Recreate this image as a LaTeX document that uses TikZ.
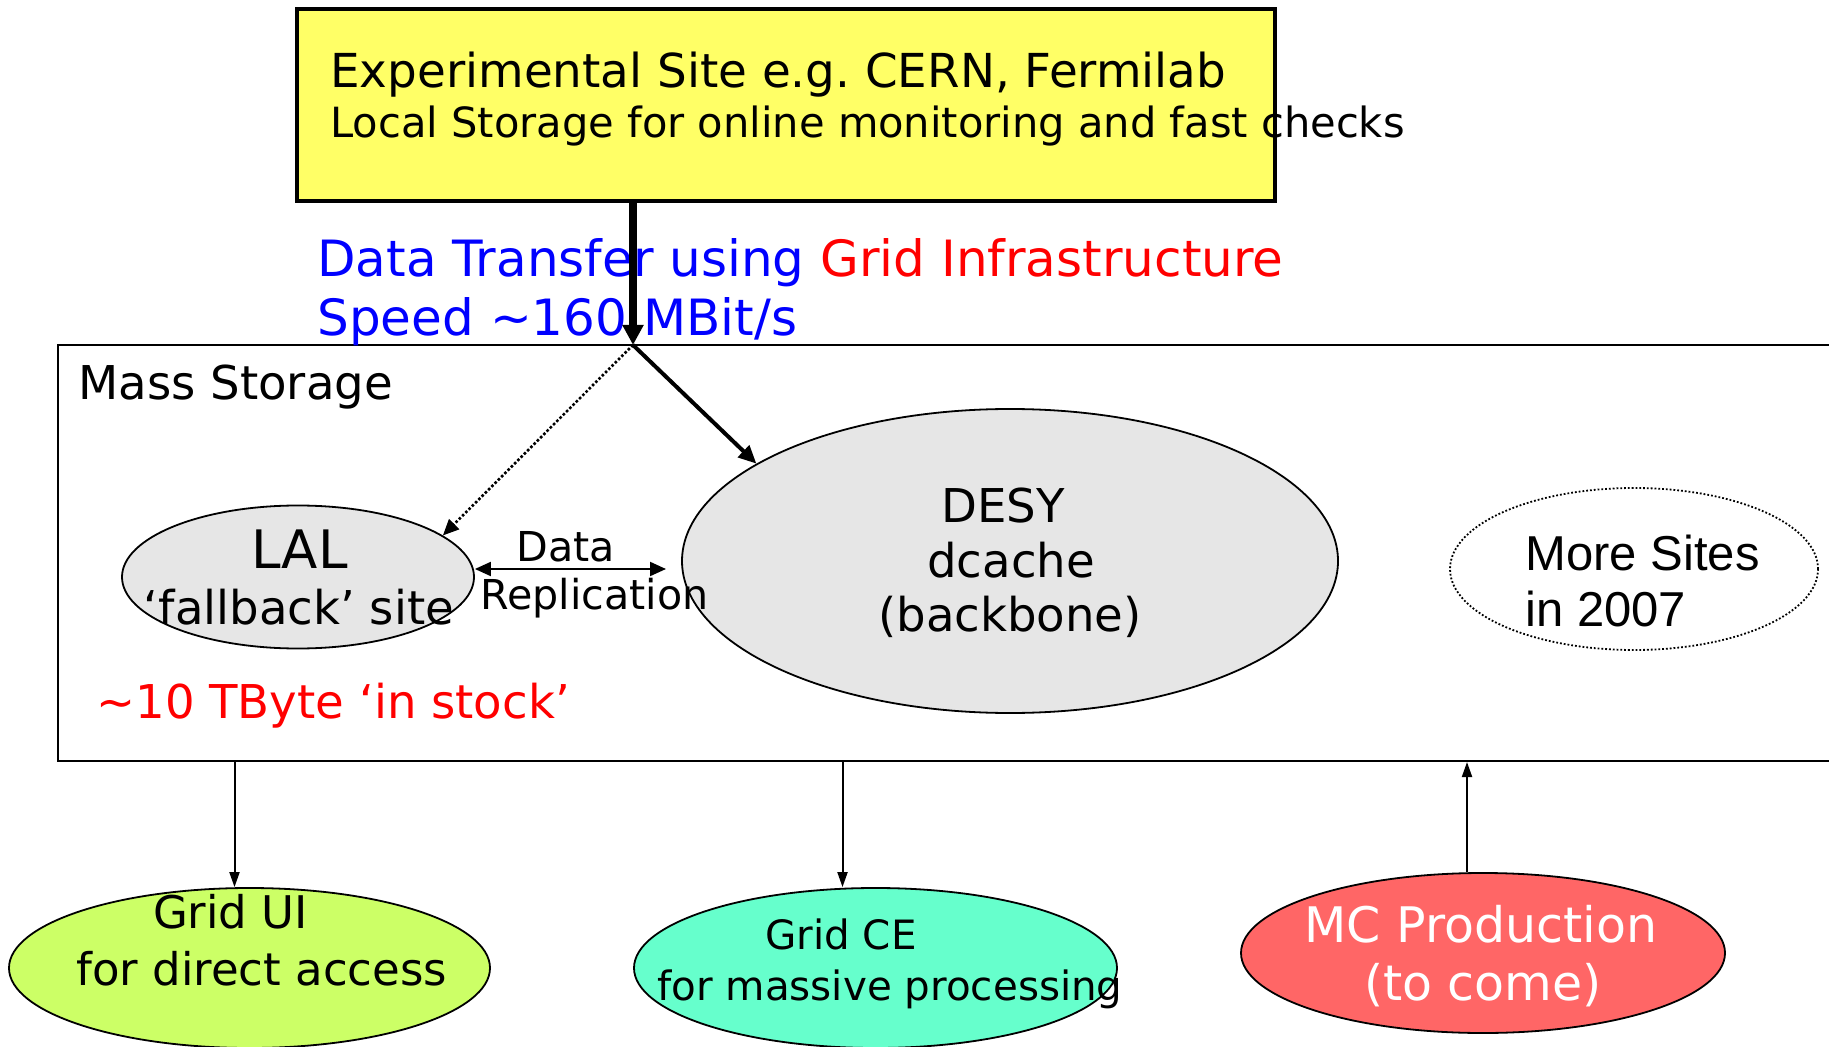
\documentclass[tikz,border=0pt]{standalone}
\usepackage{fontspec}
\setmainfont{DejaVu Sans}
\newfontfamily\arialfont{Liberation Sans}
\usetikzlibrary{shapes.geometric,arrows.meta}
\definecolor{siteyellow}{HTML}{FFFF66}
\definecolor{storegray}{HTML}{E6E6E6}
\definecolor{uigreen}{HTML}{CCFF66}
\definecolor{ceaqua}{HTML}{66FFCC}
\definecolor{mcred}{HTML}{FF6666}
\newcommand{\fsz}[1]{\fontsize{#1pt}{#1pt}\selectfont}

\begin{document}
\begin{tikzpicture}[x=0.5pt, y=-0.5pt,
    sitebox/.style ={rectangle, draw, line width=1.75pt, fill=siteyellow, inner sep=0pt},
    storage/.style ={rectangle, draw, line width=1pt, inner sep=0pt},
    place/.style ={ellipse, draw, line width=0.9pt, inner sep=0pt},
    words/.style ={inner sep=0pt, anchor=base west},
    cwords/.style ={inner sep=0pt, anchor=base},
    link/.style ={line width=1pt, -{Triangle[length=7.5pt,width=5pt]}}]
   \useasboundingbox (0,0) rectangle (1829,1047);
   % boxes and sites
   \node[sitebox] (site) at (786,105) [minimum width=489pt, minimum height=96pt] {};
   \node[storage] (mass) at (979,553) [minimum width=921pt, minimum height=208pt] {};
   \node[place, fill=storegray] (lal) at (298,577) [minimum width=176pt, minimum height=71.5pt] {};
   \node[place, fill=storegray] (desy) at (1010,561) [minimum width=328pt, minimum height=152pt] {};
   \node[place, densely dotted] (more) at (1634,569) [minimum width=184pt, minimum height=81pt] {};
   \node[place, fill=uigreen] (gridui) at (249.5,968) [minimum width=240.5pt, minimum height=80pt] {};
   \node[place, fill=ceaqua] (gridce) at (875.5,968) [minimum width=241.5pt, minimum height=80pt] {};
   \node[place, fill=mcred] (mc) at (1483,953) [minimum width=242pt, minimum height=80pt] {};
   \coordinate (hub) at (633,345);
   \coordinate (repl) at (666,569);
   % texts
   \node[words] (exp) at (330,88) {\fsz{23.4}Experimental Site e.g.\ CERN, Fermilab};
   \node[words] (local) at (330,138) {\fsz{20.8}Local Storage for online monitoring and fast checks};
   \node[words] (transfer) at (317,277) {\fsz{25}\textcolor{blue}{Data Transfer using} \textcolor{red}{Grid Infrastructure}};
   \node[words] (speed) at (317,336) {\fsz{25}\textcolor{blue}{Speed \textasciitilde160 MBit/s}};
   \node[words] (masstxt) at (78,400) {\fsz{23.3}Mass Storage};
   \node[cwords] (laltxt) at (299.5,568) {\fsz{26.5}LAL};
   \node[cwords] (fallback) at (299,624) {\fsz{23.3}‘fallback’ site};
   \node[cwords] (data) at (566,561) {\fsz{20.6}Data};
   \node[words] (replic) at (480,609) {\fsz{20.6}Replication};
   \node[cwords] (desy1) at (1003,523) {\fsz{23.3}DESY};
   \node[cwords] (desy2) at (1011,577) {\fsz{23.3}dcache};
   \node[cwords] (desy3) at (1010,631) {\fsz{23.3}(backbone)};
   \node[words] (more1) at (1525,570) {\arialfont\fsz{24.5}More Sites};
   \node[words] (more2) at (1525,626) {\arialfont\fsz{24.5}in 2007};
   \node[words, red] (stock) at (96,718) {\fsz{23.3}\textasciitilde10 TByte ‘in stock’};
   \node[cwords] (ui1) at (230.5,928) {\fsz{22.5}Grid UI};
   \node[words] (ui2) at (76,985) {\fsz{22.5}for direct access};
   \node[cwords] (ce1) at (841,949) {\fsz{20.2}Grid CE};
   \node[words] (ce2) at (657,1000) {\fsz{20.2}for massive processing};
   \node[cwords, white] (mc1) at (1481,942) {\fsz{24.5}MC Production};
   \node[cwords, white] (mc2) at (1483,1000) {\fsz{24.5}(to come)};
   % connectors
   \draw[line width=4pt, -{Triangle[length=10pt,width=10pt]}] ([xshift=-76.5pt]site.south) -- (hub);
   \draw[line width=2pt, -{Triangle[length=9pt,width=8pt]}] (hub) -- (desy.159);
   \draw[line width=1.3pt, densely dotted, -{Triangle[length=8pt,width=7pt]}] (hub) -- (lal.16);
   \draw[line width=1pt, {Triangle[length=8pt,width=7pt]}-{Triangle[length=8pt,width=7pt]}] (lal.east |- repl) -- (repl);
   \draw[link] ([xshift=-7.5pt]gridui.north |- mass.south) -- ([xshift=-7.5pt]gridui.north);
   \draw[link] ([xshift=-16.5pt]gridce.north |- mass.south) -- ([xshift=-16.5pt]gridce.north);
   \draw[link] ([xshift=-8pt]mc.north) -- ([xshift=-8pt]mc.north |- mass.south);
 \end{tikzpicture}
\end{document}
